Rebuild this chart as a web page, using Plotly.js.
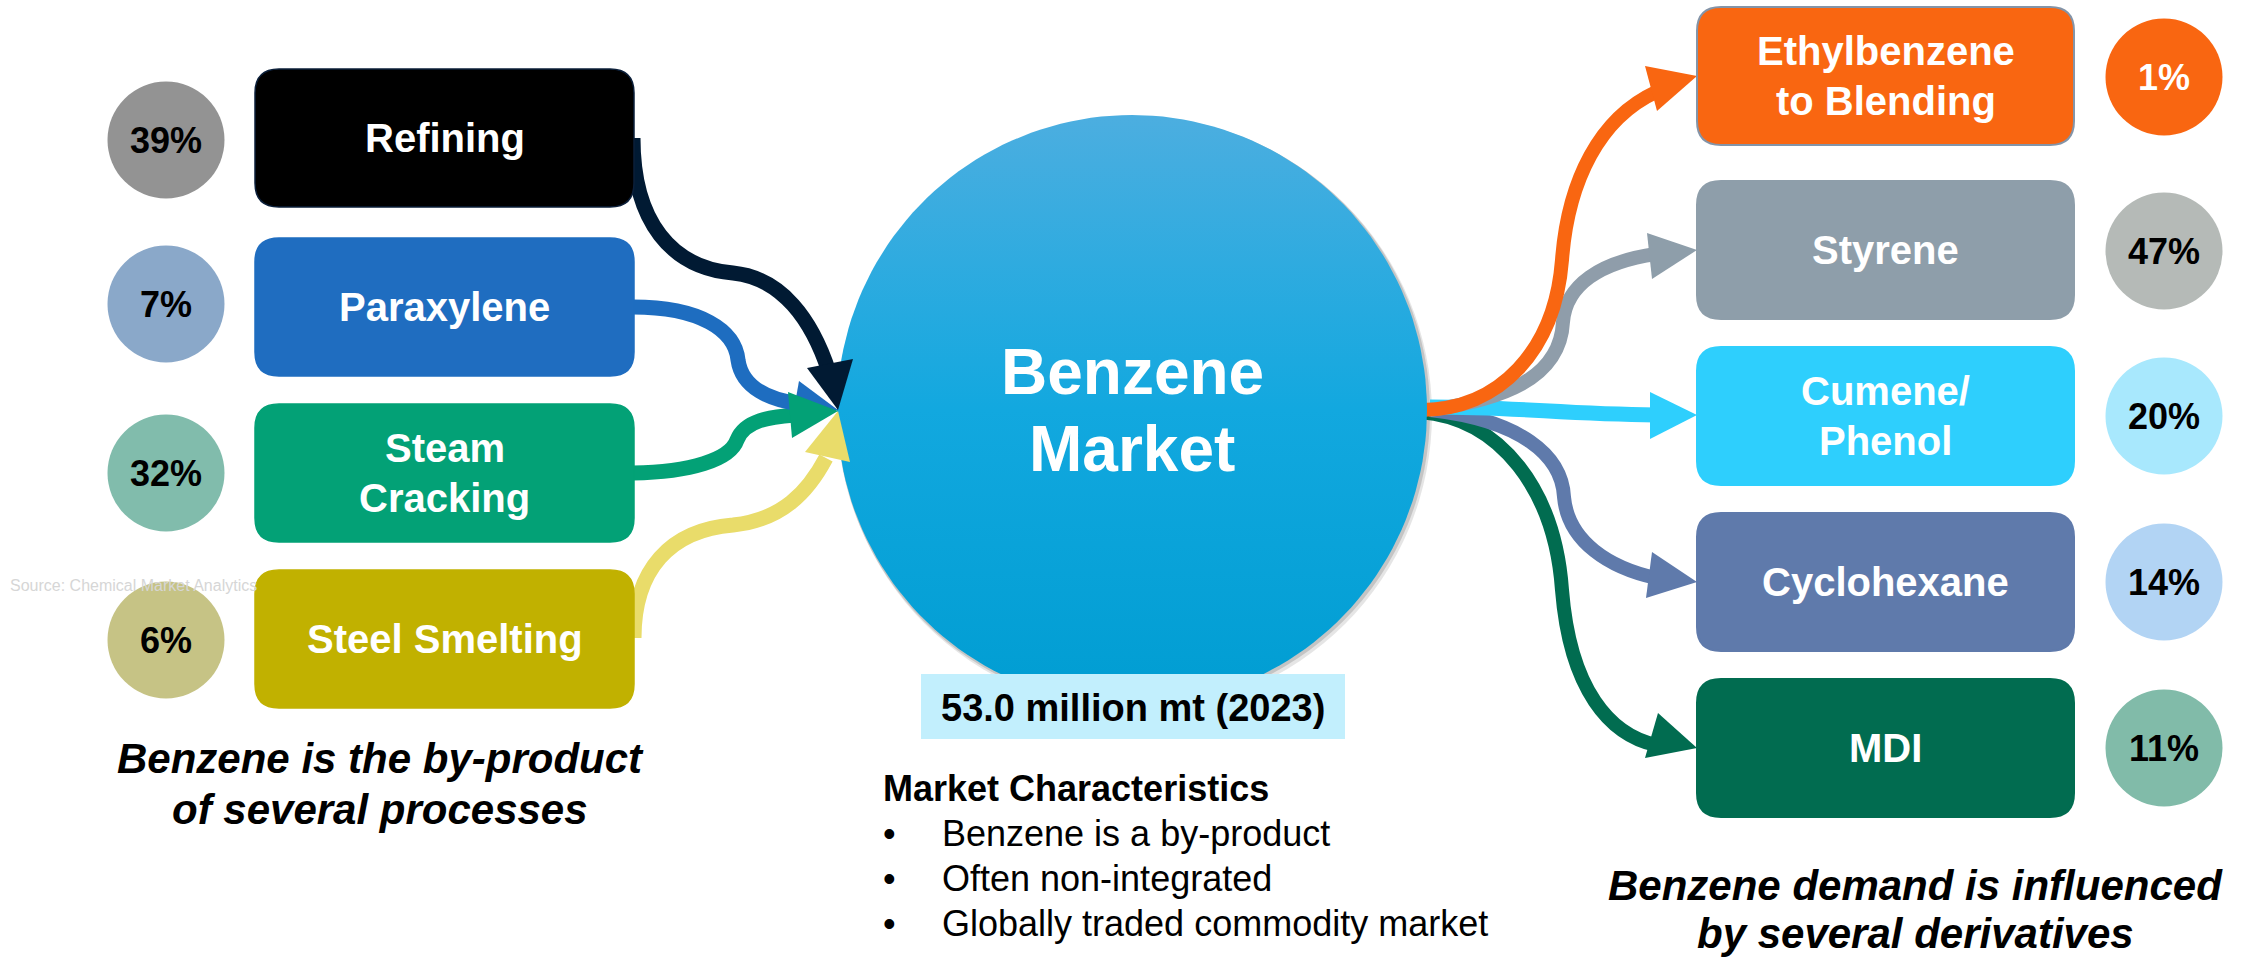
<!DOCTYPE html>
<html>
<head>
<meta charset="utf-8">
<script src="https://cdn.plot.ly/plotly-3.0.1.min.js"></script>
<style>html,body{margin:0;padding:0;background:#fff;}#chart{width:2244px;height:958px;}</style>
</head>
<body>
<div id="chart"></div>
<script>
// ---------------- DATA ----------------
const sourceLabels = [['Refining'], ['Paraxylene'], ['Steam', 'Cracking'], ['Steel Smelting']];
const sourceShares = [39, 7, 32, 6];
const derivativeLabels = [['Ethylbenzene', 'to Blending'], ['Styrene'], ['Cumene/', 'Phenol'], ['Cyclohexane'], ['MDI']];
const derivativeShares = [1, 47, 20, 14, 11];
const marketTitle = ['Benzene', 'Market'];
const marketVolume = 53.0;
const marketUnit = 'million mt';
const marketYear = 2023;
const characteristicsTitle = 'Market Characteristics';
const characteristics = ['Benzene is a by-product', 'Often non-integrated', 'Globally traded commodity market'];
const leftCaption = ['Benzene is the by-product', 'of several processes'];
const rightCaption = ['Benzene demand is influenced', 'by several derivatives'];
const sourceNote = 'Source: Chemical Market Analytics';

// ---------------- STYLE / LAYOUT ----------------
const FONT = '"Liberation Sans", Arial, Helvetica, sans-serif';
const srcBoxColors = ['#000000', '#1f6dc0', '#03a176', '#c1b100'];
const srcBorder = ['#0b1f3a', '#1f6dc0', '#03a176', '#c1b100'];
const srcCircleColors = ['#939393', '#8aa8c9', '#81bcac', '#c6c385'];
const srcArrowColors = ['#011a33', '#1e6dc0', '#03a176', '#e9dc6a'];
const derBoxColors = ['#f96611', '#8e9eaa', '#2ecffd', '#5f7aab', '#016c50'];
const derBorder = ['#8394a8', '#8e9eaa', '#2ecffd', '#5f7aab', '#016c50'];
const derCircleColors = ['#f96611', '#b5bab7', '#a8e8fd', '#b2d4f4', '#81bba9'];
const derTextColors = ['#ffffff', '#000000', '#000000', '#000000', '#000000'];

const W = 2244, H = 958;
const srcBoxX = [255, 634], srcTops = [69, 238, 404, 570], boxH = 138;
const srcCircleX = 166, srcCircleY = [140, 304, 473, 640], pctR = 58.5;
const derBoxX = [1697, 2074], derTops = [7, 181, 347, 513, 679];
const derCircleX = 2164, derCircleY = [77, 251, 416, 582, 748];
const C = {x: 1132, y: 410, r: 295};

function rr(x0, y0, x1, y1, r) {
  return `M${x0 + r},${y0} H${x1 - r} Q${x1},${y0} ${x1},${y0 + r} V${y1 - r} Q${x1},${y1} ${x1 - r},${y1} H${x0 + r} Q${x0},${y1} ${x0},${y1 - r} V${y0 + r} Q${x0},${y0} ${x0 + r},${y0} Z`;
}
function tri(p) { return `M${p[0][0]},${p[0][1]} L${p[1][0]},${p[1][1]} L${p[2][0]},${p[2][1]} Z`; }

const shapes = [];
const annotations = [];
function ann(x, y, text, size, color, o) {
  o = o || {};
  annotations.push({
    x: x, y: y, xref: 'x', yref: 'y', text: text, showarrow: false,
    xanchor: o.xa || 'center', yanchor: 'middle',
    font: {family: FONT, size: size, color: color, weight: o.w || 700, style: o.it ? 'italic' : 'normal'}
  });
}

// connector arrow geometry (pixel coords)
const srcArrowPaths = [
  'M633,138 C633,222 672,268 733,273 C782,278 812,320 829,372',
  'M633,307 C700,307 735,330 738,360 C742,388 770,400 800,404',
  'M633,473 C690,472 730,460 737,440 C745,420 770,417 795,415',
  'M634,638 C634,570 670,530 733,525 C782,520 808,492 826,458'
];
const srcHeads = [
  [[807, 368], [853, 359], [838, 410]],
  [[799, 381], [838, 410], [791, 426]],
  [[788, 392], [838, 411], [792, 438]],
  [[805, 452], [838, 411], [850, 462]]
];
const derArrowPaths = [
  'M1420,410 C1500,410 1555,350 1562,260 C1568,180 1600,118 1656,92',
  'M1430,410 C1500,400 1560,380 1563,322 C1566,285 1600,262 1656,254',
  'M1430,407 C1520,407 1560,414 1656,415',
  'M1430,410 C1520,420 1562,455 1564,497 C1568,542 1610,568 1656,578',
  'M1420,412 C1500,418 1555,490 1562,590 C1570,690 1610,735 1656,745'
];
const derHeads = [
  [[1645, 66], [1697, 76], [1657, 111]],
  [[1647, 233], [1697, 250], [1652, 279]],
  [[1650, 392], [1697, 415], [1650, 439]],
  [[1652, 552], [1697, 582], [1646, 598]],
  [[1658, 713], [1697, 748], [1645, 758]]
];

// big circle shadow
shapes.push({type: 'circle', xref: 'x', yref: 'y', x0: C.x - C.r + 1, x1: C.x + C.r + 5, y0: C.y - C.r + 2, y1: C.y + C.r + 6,
  fillcolor: 'rgba(0,0,0,0.10)', line: {width: 0}, layer: 'below'});
shapes.push({type: 'circle', xref: 'x', yref: 'y', x0: C.x - C.r, x1: C.x + C.r + 3, y0: C.y - C.r + 1, y1: C.y + C.r + 3,
  fillcolor: 'rgba(0,0,0,0.14)', line: {width: 0}, layer: 'below'});

// left arrows (lines below circle)
[3, 2, 1, 0].forEach(i => {
  shapes.push({type: 'path', xref: 'x', yref: 'y', path: srcArrowPaths[i], fillcolor: 'rgba(0,0,0,0)',
    line: {color: srcArrowColors[i], width: 15}, layer: 'below'});
});
// right arrows
[4, 3, 2, 1, 0].forEach(i => {
  shapes.push({type: 'path', xref: 'x', yref: 'y', path: derArrowPaths[i], fillcolor: 'rgba(0,0,0,0)',
    line: {color: derBoxColors[i] === '#8e9eaa' ? '#8f9daa' : derBoxColors[i], width: i === 2 ? 15 : 14}, layer: 'below'});
  shapes.push({type: 'path', xref: 'x', yref: 'y', path: tri(derHeads[i]), fillcolor: derBoxColors[i],
    line: {width: 0}, layer: 'below'});
});

// left boxes and circles
sourceLabels.forEach((lab, i) => {
  const y0 = srcTops[i], y1 = y0 + boxH, cy = (y0 + y1) / 2, cx = (srcBoxX[0] + srcBoxX[1]) / 2;
  shapes.push({type: 'path', xref: 'x', yref: 'y', path: rr(srcBoxX[0], y0, srcBoxX[1], y1, 24),
    fillcolor: srcBoxColors[i], line: {color: srcBorder[i], width: 1.5}, layer: 'below'});
  shapes.push({type: 'circle', xref: 'x', yref: 'y', x0: srcCircleX - pctR, x1: srcCircleX + pctR,
    y0: srcCircleY[i] - pctR, y1: srcCircleY[i] + pctR, fillcolor: srcCircleColors[i], line: {width: 0}, layer: 'below'});
  const n = lab.length;
  lab.forEach((t, k) => ann(cx, cy + (k - (n - 1) / 2) * 50, t, 40, '#ffffff'));
  ann(srcCircleX, srcCircleY[i], sourceShares[i] + '%', 36, '#000000');
});

// right boxes and circles
derivativeLabels.forEach((lab, i) => {
  const y0 = derTops[i], y1 = y0 + boxH, cy = (y0 + y1) / 2, cx = (derBoxX[0] + derBoxX[1]) / 2;
  shapes.push({type: 'path', xref: 'x', yref: 'y', path: rr(derBoxX[0], y0, derBoxX[1], y1, 24),
    fillcolor: derBoxColors[i], line: {color: derBorder[i], width: 2}, layer: 'below'});
  shapes.push({type: 'circle', xref: 'x', yref: 'y', x0: derCircleX - pctR, x1: derCircleX + pctR,
    y0: derCircleY[i] - pctR, y1: derCircleY[i] + pctR, fillcolor: derCircleColors[i], line: {width: 0}, layer: 'below'});
  const n = lab.length;
  lab.forEach((t, k) => ann(cx, cy + (k - (n - 1) / 2) * 50, t, 40, '#ffffff'));
  ann(derCircleX, derCircleY[i], derivativeShares[i] + '%', 36, derTextColors[i]);
});

// left arrowheads above circle
[1, 2, 3, 0].forEach(i => {
  shapes.push({type: 'path', xref: 'x', yref: 'y', path: tri(srcHeads[i]), fillcolor: srcArrowColors[i],
    line: {width: 0}, layer: 'above'});
});

// volume box
shapes.push({type: 'rect', xref: 'x', yref: 'y', x0: 921, x1: 1345, y0: 674, y1: 739,
  fillcolor: '#c2effd', line: {width: 0}, layer: 'above'});

// texts
ann(C.x, 372, marketTitle[0], 64, '#ffffff');
ann(C.x, 449, marketTitle[1], 64, '#ffffff');
ann(1133, 708, marketVolume.toFixed(1) + ' ' + marketUnit + ' (' + marketYear + ')', 38, '#000000');
ann(881, 788, characteristicsTitle, 36, '#000000', {xa: 'left'});
characteristics.forEach((t, k) => {
  ann(881, 833 + k * 45, '•', 36, '#000000', {xa: 'left', w: 400});
  ann(940, 833 + k * 45, t, 36, '#000000', {xa: 'left', w: 400});
});
leftCaption.forEach((t, k) => ann(380, 758 + k * 51, t, 42, '#000000', {it: true}));
rightCaption.forEach((t, k) => ann(1915, 885 + k * 48, t, 42, '#000000', {it: true}));
ann(8, 585, sourceNote, 16, '#d6d6d6', {xa: 'left', w: 400});

// big circle as a filled trace with vertical gradient
const cx = [], cy = [];
for (let a = 0; a <= 360; a += 2) {
  const r = a * Math.PI / 180;
  cx.push(C.x + C.r * Math.cos(r));
  cy.push(C.y + C.r * Math.sin(r));
}
const traces = [{
  type: 'scatter', mode: 'lines', x: cx, y: cy, fill: 'toself',
  line: {width: 0, color: 'rgba(0,0,0,0)'},
  fillgradient: {type: 'vertical', start: C.y - C.r, stop: C.y + C.r,
    colorscale: [[0, '#4caee0'], [0.5, '#12a8df'], [1, '#009dd2']]},
  hoverinfo: 'skip', showlegend: false
}];

const layout = {
  width: W, height: H, margin: {l: 0, r: 0, t: 0, b: 0},
  paper_bgcolor: '#ffffff', plot_bgcolor: '#ffffff',
  xaxis: {range: [0, W], visible: false, fixedrange: true},
  yaxis: {range: [H, 0], visible: false, fixedrange: true},
  showlegend: false, shapes: shapes, annotations: annotations
};
Plotly.newPlot('chart', traces, layout, {displayModeBar: false, staticPlot: true});
</script>
</body>
</html>
